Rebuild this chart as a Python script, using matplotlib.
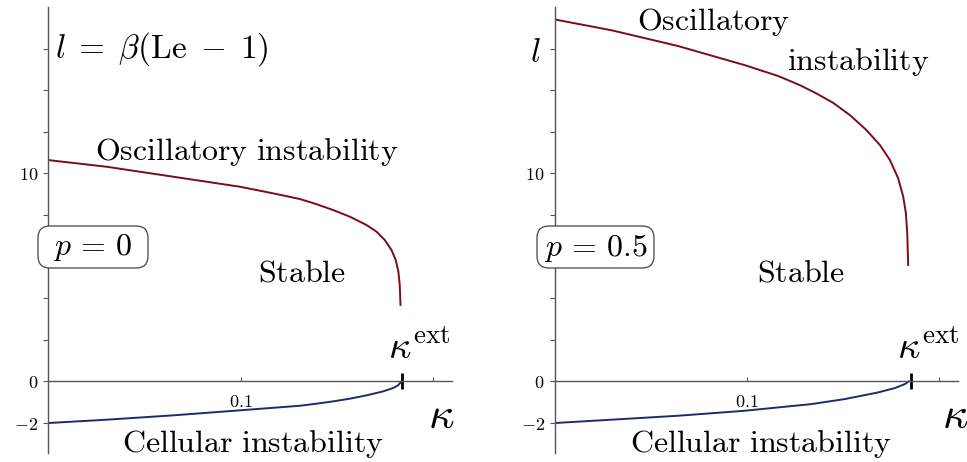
import matplotlib
matplotlib.use("Agg")
import matplotlib.pyplot as plt
from matplotlib.patches import FancyBboxPatch
from matplotlib.transforms import IdentityTransform

plt.rcParams['mathtext.fontset'] = 'cm'
plt.rcParams['font.family'] = ['DejaVu Serif']

# ---- data ----
# p = 0 panel
osc0_kappa = [0.0, 0.0303, 0.065, 0.0996, 0.117, 0.1308, 0.1395, 0.1481, 0.1568,
              0.1655, 0.1707, 0.175, 0.1785, 0.1807, 0.1821, 0.1828, 0.1832]
osc0_l = [10.64, 10.32, 9.84, 9.36, 9.04, 8.77, 8.52, 8.24, 7.92,
          7.52, 7.20, 6.80, 6.32, 5.84, 5.28, 4.64, 3.68]
cell0_kappa = [0.0, 0.0303, 0.065, 0.0996, 0.1308, 0.1395, 0.1481, 0.1568, 0.1655,
               0.1741, 0.1793, 0.1819, 0.1837]
cell0_l = [-2.0, -1.84, -1.63, -1.39, -1.17, -1.07, -0.96, -0.83, -0.67,
           -0.48, -0.32, -0.19, 0.0]
kappa_ext0 = 0.1842

# p = 0.5 panel
osc5_kappa = [0.0, 0.0296, 0.0643, 0.099, 0.1163, 0.1276, 0.1362, 0.1449, 0.1536,
              0.1622, 0.1692, 0.1744, 0.1787, 0.1813, 0.1827, 0.1834, 0.1837, 0.1839]
osc5_l = [17.40, 16.88, 16.12, 15.20, 14.68, 14.24, 13.84, 13.39, 12.80,
          12.08, 11.36, 10.64, 9.76, 8.88, 8.08, 7.12, 6.16, 5.60]
cell5_kappa = [0.0, 0.0295, 0.0642, 0.0988, 0.1335, 0.1508, 0.1682, 0.1769, 0.1821, 0.1842]
cell5_l = [-2.0, -1.84, -1.65, -1.41, -1.09, -0.85, -0.53, -0.32, -0.13, 0.0]
kappa_ext5 = 0.1851

y_ticks = [-2, 0, 2, 4, 6, 8, 10, 12, 14, 16]
y_ticklabels = ['$-2$', '$0$', '', '', '', '', '$10$', '', '', '']
x_ticks = [0.1, 0.2]
x_ticklabels = ['$0.1$', '']

RED = '#7a0c1c'
BLUE = '#1e2b6e'
AX = '#555555'
FS = 23
W, H = 967, 462

fig = plt.figure(figsize=(W / 100, H / 100), dpi=100)
ax0 = fig.add_axes([0.04995, 0.0195, 0.4175, 0.9654])
ax1 = fig.add_axes([0.5736, 0.0195, 0.4175, 0.9654])


def style(ax):
    ax.set_xlim(0, 0.21)
    ax.set_ylim(-3.44, 18)
    for s in ['top', 'right']:
        ax.spines[s].set_visible(False)
    ax.spines['left'].set_position(('data', 0))
    ax.spines['bottom'].set_position(('data', 0))
    for s in ['left', 'bottom']:
        ax.spines[s].set_color(AX)
        ax.spines[s].set_linewidth(1.0)
    ax.set_yticks(y_ticks)
    ax.set_yticklabels(y_ticklabels)
    ax.set_xticks(x_ticks)
    ax.set_xticklabels(x_ticklabels)
    ax.tick_params(axis='y', direction='out', length=3.6, width=0.8, color=AX,
                   pad=3.6, labelsize=13)
    ax.tick_params(axis='x', direction='in', length=3, width=0.8, color=AX,
                   pad=8, labelsize=13)
    ax.patch.set_alpha(0)


def box(px0, px1, py0, py1, s):
    # rounded label box, given in pixel positions (top-left origin)
    patch = FancyBboxPatch((px0, H - py1), px1 - px0, py1 - py0,
                           boxstyle='round,pad=0,rounding_size=12',
                           transform=IdentityTransform(), fc='white',
                           ec='#444444', lw=0.9, zorder=4)
    fig.add_artist(patch)
    fig.text((px0 + px1) / 2 / W, 1 - ((py0 + py1) / 2 + 0.5) / H, s,
             fontsize=FS, ha='center', va='center', zorder=5)


# left panel
style(ax0)
ax0.plot(osc0_kappa, osc0_l, color=RED, lw=1.4)
ax0.plot(cell0_kappa, cell0_l, color=BLUE, lw=1.4)
ax0.plot([kappa_ext0], [0], marker='|', color='black', markersize=12, mew=2)
ax0.text(0.0035, 15.59, r'$l\;=\;\beta(\mathrm{Le}\;-\;1)$', fontsize=FS + 1, ha='left', va='baseline')
ax0.text(0.1033, 10.64, r'$\mathrm{Oscillatory\ instability}$', fontsize=FS, ha='center', va='baseline')
ax0.text(0.132, 4.79, r'$\mathrm{Stable}$', fontsize=FS, ha='center', va='baseline')
ax0.text(0.1064, -3.37, r'$\mathrm{Cellular\ instability}$', fontsize=FS, ha='center', va='baseline')
ax0.text(0.1766, 1.14, r'$\kappa^{\mathrm{ext}}$', fontsize=FS + 5, ha='left', va='baseline')
ax0.text(0.1973, -2.22, r'$\kappa$', fontsize=FS + 9, ha='left', va='baseline')
box(38, 148, 226, 268, r'$p\,=\,0$')

# right panel
style(ax1)
ax1.plot(osc5_kappa, osc5_l, color=RED, lw=1.4)
ax1.plot(cell5_kappa, cell5_l, color=BLUE, lw=1.4)
ax1.plot([kappa_ext5], [0], marker='|', color='black', markersize=12, mew=2)
ax1.text(-0.0128, 15.35, r'$l$', fontsize=FS + 1, ha='left', va='baseline')
ax1.text(0.0428, 16.88, r'$\mathrm{Oscillatory}$', fontsize=FS, ha='left', va='baseline')
ax1.text(0.1208, 14.96, r'$\mathrm{instability}$', fontsize=FS, ha='left', va='baseline')
ax1.text(0.1052, 4.79, r'$\mathrm{Stable}$', fontsize=FS, ha='left', va='baseline')
ax1.text(0.0392, -3.37, r'$\mathrm{Cellular\ instability}$', fontsize=FS, ha='left', va='baseline')
ax1.text(0.178, 1.14, r'$\kappa^{\mathrm{ext}}$', fontsize=FS + 5, ha='left', va='baseline')
ax1.text(0.2014, -2.22, r'$\kappa$', fontsize=FS + 9, ha='left', va='baseline')
box(537, 654, 226, 268, r'$p\,=\,0.5$')

fig.savefig('out.png', dpi=100)
